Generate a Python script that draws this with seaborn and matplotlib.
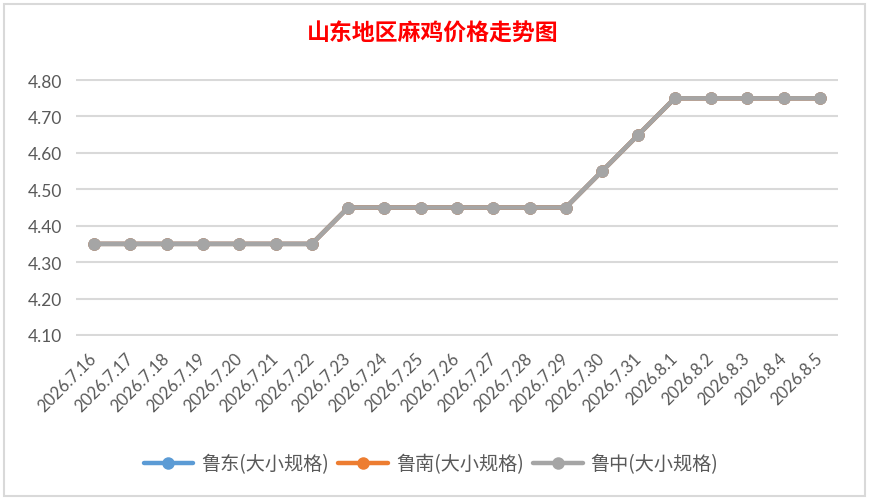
import matplotlib
matplotlib.use("Agg")
import matplotlib.pyplot as plt
import seaborn as sns
import pandas as pd
from matplotlib.patches import Rectangle
from matplotlib.lines import Line2D

dates = ["2026.7.16", "2026.7.17", "2026.7.18", "2026.7.19", "2026.7.20", "2026.7.21",
         "2026.7.22", "2026.7.23", "2026.7.24", "2026.7.25", "2026.7.26", "2026.7.27",
         "2026.7.28", "2026.7.29", "2026.7.30", "2026.7.31", "2026.8.1", "2026.8.2",
         "2026.8.3", "2026.8.4", "2026.8.5"]
ludong = [4.35, 4.35, 4.35, 4.35, 4.35, 4.35, 4.35, 4.45, 4.45, 4.45, 4.45, 4.45,
          4.45, 4.45, 4.55, 4.65, 4.75, 4.75, 4.75, 4.75, 4.75]
lunan = [4.35, 4.35, 4.35, 4.35, 4.35, 4.35, 4.35, 4.45, 4.45, 4.45, 4.45, 4.45,
         4.45, 4.45, 4.55, 4.65, 4.75, 4.75, 4.75, 4.75, 4.75]
luzhong = [4.35, 4.35, 4.35, 4.35, 4.35, 4.35, 4.35, 4.45, 4.45, 4.45, 4.45, 4.45,
           4.45, 4.45, 4.55, 4.65, 4.75, 4.75, 4.75, 4.75, 4.75]
series_names = ["鲁东(大小规格)", "鲁南(大小规格)", "鲁中(大小规格)"]
colors = ["#5b9bd5", "#ed7d31", "#a5a5a5"]
yticks = [4.10, 4.20, 4.30, 4.40, 4.50, 4.60, 4.70, 4.80]
title = "山东地区麻鸡价格走势图"

sns.set_theme(style="white")
plt.rcParams['font.family'] = ['Lato', 'Noto Sans CJK SC', 'DejaVu Sans']

rows = []
for name, vals in zip(series_names, [ludong, lunan, luzhong]):
    for i, (d, v) in enumerate(zip(dates, vals)):
        rows.append({"idx": i, "date": d, "price": v, "series": name})
df = pd.DataFrame(rows)

fig = plt.figure(figsize=(8.69, 5.02), dpi=100)
fig.patch.set_facecolor("white")

# chart border (excel style)
fig.patches.append(Rectangle((4/869, 1 - 497/502), 861/869, 492/502, transform=fig.transFigure,
                             fill=False, edgecolor="#d9d9d9", linewidth=1.5))

ax = fig.add_axes([76/869, 1 - 337/502, (838 - 76)/869, (337 - 80)/502])
sns.lineplot(data=df, x="idx", y="price", hue="series", hue_order=series_names,
             palette=colors, marker="o", markersize=9, markeredgewidth=0,
             linewidth=3.2, ax=ax, legend=False, errorbar=None)

ax.set_xlim(-0.5, len(dates) - 0.5)
ax.set_ylim(4.097, 4.803)
ax.set_yticks(yticks)
ax.set_yticklabels([f"{t:.2f}" for t in yticks], fontsize=12.5, color="#595959")
ax.set_xticks(range(len(dates)))
ax.set_xticklabels(dates, rotation=45, ha="right", va="center", rotation_mode="anchor",
                   fontsize=12, color="#595959")
ax.tick_params(axis="x", length=0, pad=14)
ax.tick_params(axis="y", length=0, pad=10)
ax.grid(axis="y", color="#d9d9d9", linewidth=1.5)
ax.set_axisbelow(True)
for s in ax.spines.values():
    s.set_visible(False)
ax.set_xlabel("")
ax.set_ylabel("")

fig.text(433/869, 1 - 34/502, title, ha="center", va="center", color="#ff0000",
         fontsize=16.5, fontweight="bold", family=["Noto Sans CJK SC", "DejaVu Sans"])

handles = [Line2D([0], [0], color=c, linewidth=3.2, marker="o", markersize=9,
                  markeredgewidth=0) for c in colors]
leg = fig.legend(handles, series_names, loc="center", bbox_to_anchor=(431/869, 1 - 465/502),
                 ncol=3, frameon=False, handlelength=2.6, columnspacing=0.5,
                 handletextpad=0.4, prop={"family": ["Noto Sans CJK SC", "DejaVu Sans"], "size": 13.8})
for t in leg.get_texts():
    t.set_color("#595959")

fig.savefig("out.png", dpi=100, facecolor="white")
